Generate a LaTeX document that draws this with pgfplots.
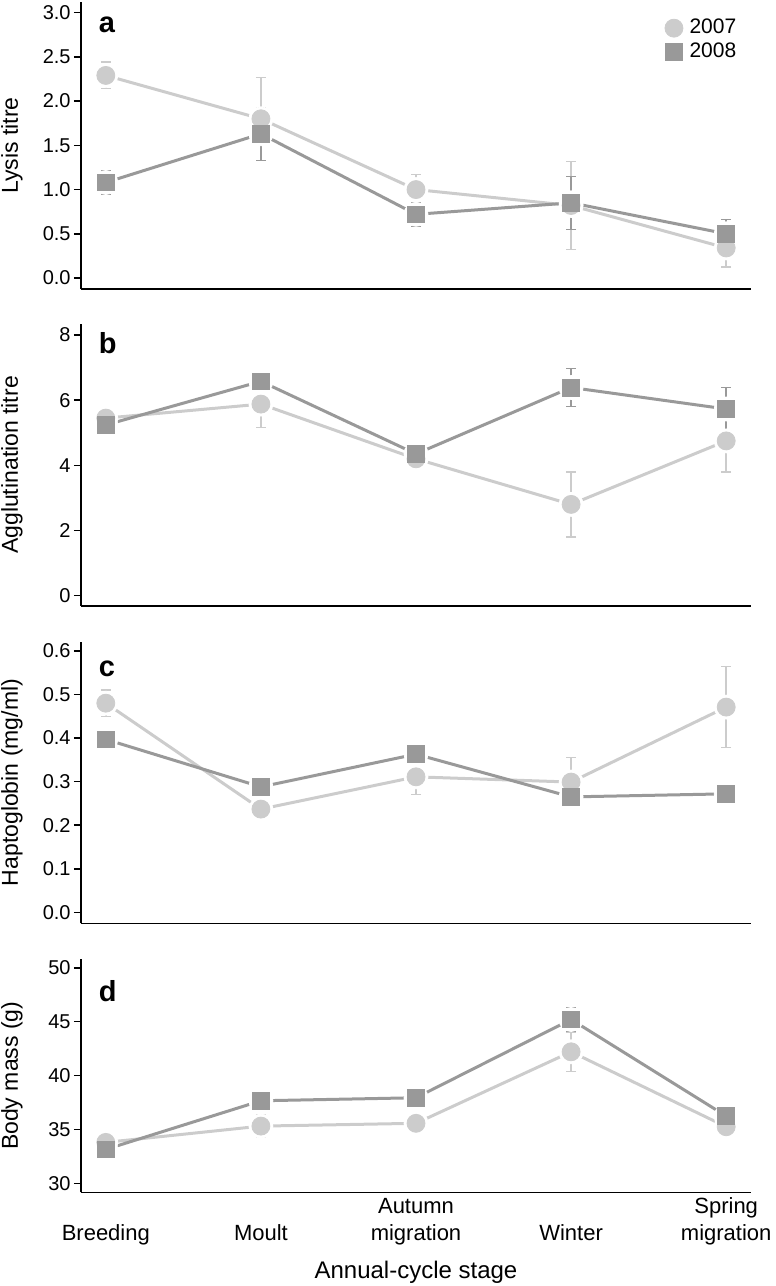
\documentclass[border=0pt]{standalone}
\usepackage{pgfplots}
\pgfplotsset{compat=1.18}
\usepackage{pgfplotstable}
\usepackage{fontspec}
\setmainfont{Liberation Sans}

\definecolor{cA}{RGB}{204,204,204}
\definecolor{cB}{RGB}{153,153,153}

\pgfplotstableread{
x m07 e07 m08 e08
0 2.29 0.15 1.08 0.13
1 1.80 0.47 1.63 0.30
2 1.00 0.17 0.72 0.13
3 0.82 0.50 0.85 0.30
4 0.34 0.215 0.50 0.16
}\dataA
\pgfplotstableread{
x m07 e07 m08 e08
0 5.45 0.15 5.24 0.15
1 5.88 0.71 6.58 0.30
2 4.20 0.20 4.35 0.32
3 2.80 1.00 6.39 0.59
4 4.75 0.95 5.73 0.66
}\dataB
\pgfplotstableread{
x m07 e07 m08 e08
0 0.480 0.030 0.397 0.012
1 0.237 0.010 0.288 0.010
2 0.311 0.040 0.363 0.023
3 0.299 0.057 0.265 0.023
4 0.471 0.093 0.272 0.010
}\dataC
\pgfplotstableread{
x m07 e07 m08 e08
0 33.80 0.30 33.15 0.30
1 35.31 1.05 37.66 0.40
2 35.57 0.30 37.94 0.30
3 42.20 1.85 45.20 1.10
4 35.25 0.77 36.24 0.90
}\dataD

\pgfplotsset{
  panel/.style={
    scale only axis, width=335pt, anchor=north west,
    xmin=-0.16, xmax=4.16, clip=false,
    axis x line*=bottom, axis y line*=left,
    axis line style={line width=0.8pt, black, -},
    tick align=outside, major tick length=3.5pt,
    major tick style={line width=0.8pt, black},
    xtick={0,1,2,3,4}, xticklabels={}, x tick style={draw=none},
    /pgf/number format/assume math mode=true,
    ticklabel style={font=\fontsize{10}{12}\selectfont},
    yticklabel style={inner xsep=1.5pt},
    every axis y label/.style={at={(axis description cs:-0.103,0.5)}, rotate=90, anchor=center, font=\fontsize{11.5}{13.5}\selectfont},
  },
}

\newcommand{\serLine}[3]{%
  \addplot[forget plot, draw=#3, line width=1.5pt] table[x=x,y=m#2]{#1};}
\newcommand{\serHalo}[2]{%
  \addplot[forget plot, only marks, color=white, mark=*, mark size=6pt] table[x=x,y=m#2]{#1};}
\newcommand{\serMarks}[4]{%
  \addplot[only marks, color=#3, #4,
    error bars/.cd, y dir=both, y explicit,
    error bar style={line width=0.7pt, #3},
    error mark=-,
    error mark options={rotate=90, mark size=2.5pt, line width=0.7pt, #3}]
    table[x=x,y=m#2,y error=e#2]{#1};}
\newcommand{\panelplots}[1]{%
  \serLine{#1}{07}{cA}
  \serLine{#1}{08}{cB}
  \serHalo{#1}{07}
  \serHalo{#1}{08}
  \serMarks{#1}{07}{cA}{mark=*, mark size=4.5pt}
  \serMarks{#1}{08}{cB}{mark=square*, mark size=4.2pt}
}

\newcommand{\plabel}[3]{\node[anchor=base west, inner sep=0pt, font=\bfseries\fontsize{14.5}{16}\selectfont] at (axis description cs:#1,#2) {#3};}

\begin{document}
\begin{tikzpicture}
\useasboundingbox (0,0) rectangle (388pt,-643pt);

% panel a
\begin{axis}[panel, at={(40.5pt,-1pt)}, height=143.5pt,
  ymin=-0.124, ymax=3.12, ytick={0,0.5,1,1.5,2,2.5,3},
  yticklabel style={/pgf/number format/.cd, fixed, fixed zerofill, precision=1},
  ylabel={Lysis titre},
  legend image code/.code={\path[draw=none, fill=none] (0pt,-4.5pt) rectangle (12pt,4.5pt); \draw[mark repeat=2,mark phase=2,#1] plot coordinates {(0pt,0pt) (6pt,0pt) (12pt,0pt)};},
  legend style={draw=none, fill=none, at={(axis description cs:0.8665,0.948)}, anchor=north west,
    font=\fontsize{10.5}{12}\selectfont, inner sep=0pt, row sep=1pt, nodes={inner ysep=1pt, inner xsep=1.8pt}},
  legend cell align=left]
\panelplots{\dataA}
\legend{2007,2008}
\plabel{0.026}{0.895}{a}
\end{axis}

% panel b
\begin{axis}[panel, at={(40.5pt,-162pt)}, height=141pt,
  ymin=-0.32, ymax=8.34, ytick={0,2,4,6,8},
  ylabel={Agglutination titre}]
\panelplots{\dataB}
\plabel{0.026}{0.897}{b}
\end{axis}

% panel c
\begin{axis}[panel, at={(40.5pt,-320.85pt)}, height=140.8pt,
  ymin=-0.025, ymax=0.621, ytick={0,0.1,0.2,0.3,0.4,0.5,0.6},
  yticklabel style={/pgf/number format/.cd, fixed, fixed zerofill, precision=1},
  ylabel={Haptoglobin (mg/ml)}]
\panelplots{\dataC}
\plabel{0.026}{0.878}{c}
\end{axis}

% panel d
\begin{axis}[panel, at={(40.5pt,-479.65pt)}, height=116.5pt,
  ymin=29.17, ymax=50.78, ytick={30,35,40,45,50},
  ylabel={Body mass (g)},
  xticklabels={{\strut\\Breeding},{\strut\\Moult},{\strut Autumn\\migration},{\strut\\Winter},{\strut Spring\\migration}},
  xticklabel style={align=center, anchor=north, inner sep=0pt, yshift=2.5pt, font=\fontsize{11}{13.5}\selectfont},
  xlabel={Annual-cycle stage},
  every axis x label/.style={at={(axis description cs:0.5,0)}, anchor=base, yshift=-42.9pt, font=\fontsize{12}{14}\selectfont}]
\panelplots{\dataD}
\plabel{0.026}{0.818}{d}
\end{axis}
\end{tikzpicture}
\end{document}
